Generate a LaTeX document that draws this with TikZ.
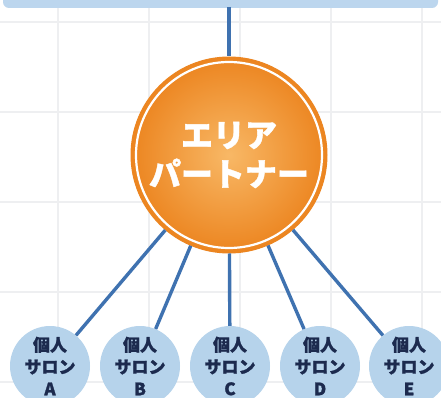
\documentclass[tikz,border=0pt]{standalone}
\usepackage{fontspec}
\newfontfamily\jpfont[BoldFeatures={FakeBold=1.2}]{Noto Sans CJK JP}
\definecolor{barblue}{HTML}{BCD6EE}
\definecolor{linkblue}{HTML}{3F72B0}
\definecolor{salonblue}{HTML}{B6D3EB}
\definecolor{orangein}{HTML}{F8B866}
\definecolor{orangeout}{HTML}{EC8520}
\definecolor{navytext}{HTML}{1C2A4E}
\definecolor{gridgray}{HTML}{EEEFF1}
\tikzset{
  gridline/.style={color=gridgray, line width=1.4pt},
  link/.style={color=linkblue, line width=3.4pt},
  partner/.style={circle, minimum size=196pt, inner sep=0pt,
    shading=radial, inner color=orangein, outer color=orangeout,
    draw=orangeout, line width=1pt, text=white, align=center,
    font=\jpfont\bfseries\fontsize{32}{39}\selectfont,
    path picture={\draw[white, line width=2.2pt]
      (path picture bounding box.center) circle (93pt);}},
  salon/.style={circle, minimum size=80pt, inner sep=0pt,
    fill=salonblue, text=navytext, align=center,
    font=\jpfont\bfseries\fontsize{17}{22}\selectfont},
}

\begin{document}
\begin{tikzpicture}[%
x=1pt, y=-1pt,
]
\useasboundingbox (0,0) rectangle (441,398);
\clip (0,0) rectangle (441,398);
\fill[white] (0,0) rectangle (441,398);
%% grid;
\foreach \gx in {58,149,240,331,422}
  \draw[gridline] (\gx,0) -- (\gx,398);
\foreach \gy in {22,112,202,292,382}
  \draw[gridline] (0,\gy) -- (441,\gy);
%% top bar;
\fill[barblue, rounded corners=6pt] (3,-12) rectangle (438,8);
\coordinate (bar) at (229,7);
%% partner;
\node[partner] (partner) at (229,155) {エリア\\パートナー};
%% salons;
\node[salon] (salonA) at (50,366) {個人\\サロン\\A};
\node[salon] (salonB) at (140,366) {個人\\サロン\\B};
\node[salon] (salonC) at (230,366) {個人\\サロン\\C};
\node[salon] (salonD) at (320,366) {個人\\サロン\\D};
\node[salon] (salonE) at (409,366) {個人\\サロン\\E};
%% links;
\draw[link] (bar) -- (partner);
\foreach \s in {A,B,C,D,E}
  \draw[link] (partner) -- (salon\s);
\end{tikzpicture}
\end{document}
